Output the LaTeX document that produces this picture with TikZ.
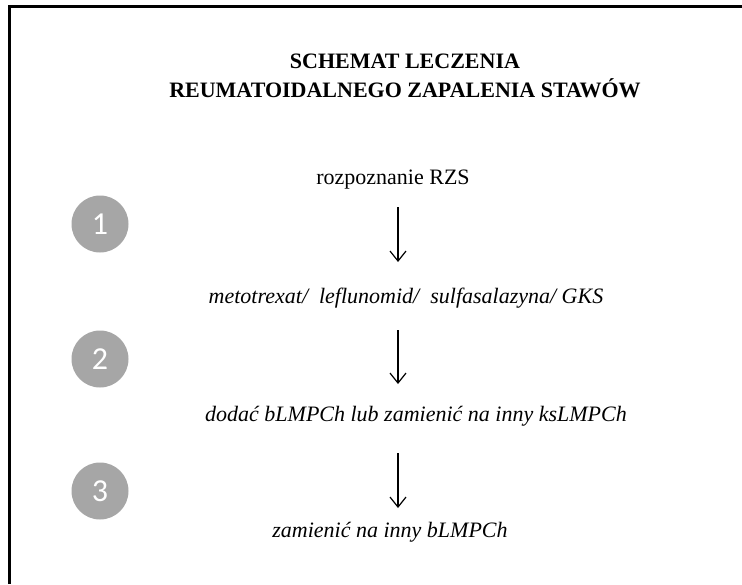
\documentclass[tikz,border=0pt]{standalone}
\usepackage{fontspec}
\setmainfont{Liberation Serif}
\newfontfamily\numfont{Carlito}
\usetikzlibrary{arrows.meta}
\definecolor{circgray}{HTML}{A6A6A6}
\tikzset{
  txt/.style={inner sep=0pt, font=\fontsize{22}{26}\selectfont},
  itxt/.style={inner sep=0pt, font=\fontsize{22}{26}\selectfont\itshape},
  numcirc/.style={circle, fill=circgray, minimum size=57pt, inner sep=0pt, text=white, font=\numfont\fontsize{32}{36}\selectfont},
  flow/.style={-{Straight Barb[length=10pt,width=16pt,line width=1.2pt]}, line width=1.2pt}
}
\begin{document}
\begin{tikzpicture}[x=1pt,y=-1pt]
\useasboundingbox (0,0) rectangle (742,584);
\fill[white] (0,0) rectangle (742,584);
\draw[line width=3pt] (9,584) -- (9,6) -- (742,6);
\node[inner sep=0pt, align=center, font=\fontsize{22}{29}\selectfont\bfseries] (title) at (405,76) {SCHEMAT LECZENIA\\REUMATOIDALNEGO ZAPALENIA STAWÓW};
\node[txt] (t0) at (393,180) {rozpoznanie RZS};
\node[itxt] (t1) at (406,298) {metotrexat/\ \ leflunomid/\ \ sulfasalazyna/ GKS};
\node[itxt] (t2) at (416,416) {dodać bLMPCh lub zamienić na inny ksLMPCh};
\node[itxt] (t3) at (390,532) {zamienić na inny bLMPCh};
\coordinate (a1s) at (398,207); \coordinate (a1e) at (398,262);
\coordinate (a2s) at (398,330); \coordinate (a2e) at (398,384);
\coordinate (a3s) at (398,453); \coordinate (a3e) at (398,508);
\draw[flow] (a1s) -- (a1e);
\draw[flow] (a2s) -- (a2e);
\draw[flow] (a3s) -- (a3e);
\node[numcirc] (c1) at (100,224) {1};
\node[numcirc] (c2) at (100,359) {2};
\node[numcirc] (c3) at (100,491) {3};
\end{tikzpicture}
\end{document}
